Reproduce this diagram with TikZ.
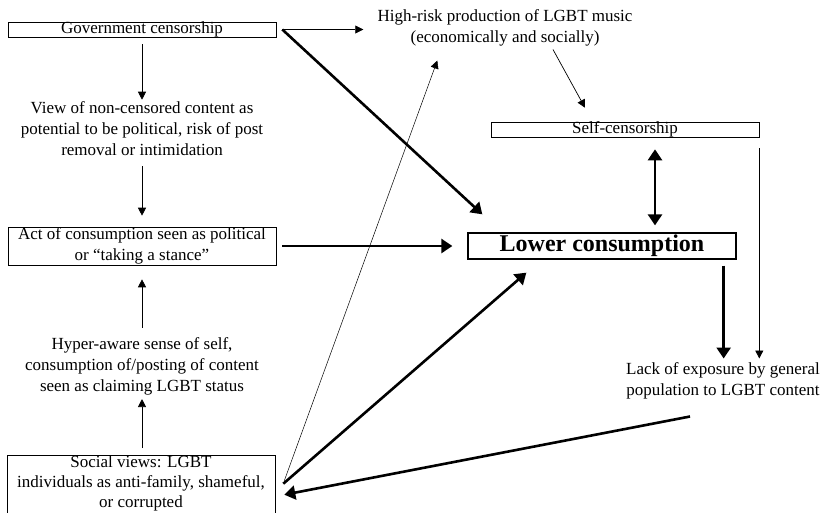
\documentclass[tikz,border=0pt]{standalone}
\usepackage{fontspec}
\setmainfont{Liberation Serif}
\usetikzlibrary{arrows.meta}

\begin{document}
\begin{tikzpicture}[x=1pt, y=-1pt,
    every node/.style={font=\fontsize{17}{21}\selectfont, align=center, inner sep=0pt},
    onebox/.style={draw, line width=0.6pt, minimum width=268pt,
                   text height=11.5pt, text depth=3.5pt},
    twobox/.style={draw, line width=0.6pt, minimum width=268pt},
    thinarrow/.style={line width=0.7pt, -{Triangle[length=8pt,width=8pt]}},
    heavyarrow/.style={line width=2.6pt, -{Triangle[length=11pt,width=14pt]}}]
  \useasboundingbox (0,0) rectangle (827,512);
  % left column
  \node[onebox] (gov) at (142,29.5) {Government censorship};
  \node (view) at (142,129) {View of non-censored content as\\potential to be political, risk of post\\removal or intimidation};
  \node[twobox, minimum height=38pt] (act) at (142,246) {Act of consumption seen as political\\or ``taking a stance''};
  \node (hyper) at (142,366) {Hyper-aware sense of self,\\consumption of/posting of content\\seen as claiming LGBT status};
  \node[twobox, anchor=north, inner ysep=0.5pt, text depth=10pt,
        font=\fontsize{17}{20}\selectfont] (soc) at (141,455) {Social views: LGBT\\individuals as anti-family, shameful,\\or corrupted};
  % right part
  \node (risk) at (505,28) {High-risk production of LGBT music\\(economically and socially)};
  \node[onebox] (self) at (625,129.5) {Self-censorship};
  \node[draw, line width=1.3pt, minimum width=268pt, minimum height=26pt,
        font=\bfseries\fontsize{24}{28}\selectfont] (low) at (602,246) {Lower consumption};
  \node (lack) at (723,381) {Lack of exposure by general\\population to LGBT content};
  % connectors
  \draw[thinarrow, shorten <=7pt, shorten >=2pt] (gov) -- (view);
  \draw[thinarrow, shorten <=10pt, shorten >=11pt] (view) -- (act);
  \draw[thinarrow, shorten <=9pt, shorten >=14pt] (hyper) -- (act);
  \draw[thinarrow, shorten <=7pt, shorten >=4pt] (soc.north -| hyper.south) -- (hyper.south);
  \draw[thinarrow] ([xshift=6pt]gov.east) -- ([xshift=-14pt]gov.east -| risk.west);
  \draw[heavyarrow] ([xshift=6pt]gov.east) -- ([xshift=15pt,yshift=18pt]low.north west);
  \draw[heavyarrow] ([xshift=6pt]act.east) -- ([xshift=-15pt]low.west);
  \draw[heavyarrow] ([xshift=8pt,yshift=3pt]soc.east) -- ([xshift=59pt,yshift=-13pt]low.south west);
  \draw[thinarrow, line width=0.5pt] ([xshift=9pt,yshift=6pt]soc.east) -- ([xshift=60pt,yshift=-14pt]risk.south west);
  \draw[thinarrow] ([xshift=48pt,yshift=-3pt]risk.south) -- ([xshift=-40pt,yshift=14pt]self.north);
  \draw[heavyarrow, {Triangle[length=11pt,width=14pt]}-{Triangle[length=11pt,width=14pt]}, shorten <=12pt, shorten >=7pt]
    ([xshift=30pt]self.south) -- ([xshift=30pt]self.south |- low.north);
  \draw[thinarrow, shorten <=11pt, shorten >=4pt] (self.south east) -- (self.south east |- lack.north);
  \draw[heavyarrow, shorten <=6pt, shorten >=4pt] ([xshift=-13pt]low.south east) -- ([xshift=-13pt]low.south east |- lack.north);
  \draw[heavyarrow] ([xshift=-33pt,yshift=-17pt]lack.south) -- ([xshift=9pt,yshift=-8pt]soc.east);
\end{tikzpicture}
\end{document}
